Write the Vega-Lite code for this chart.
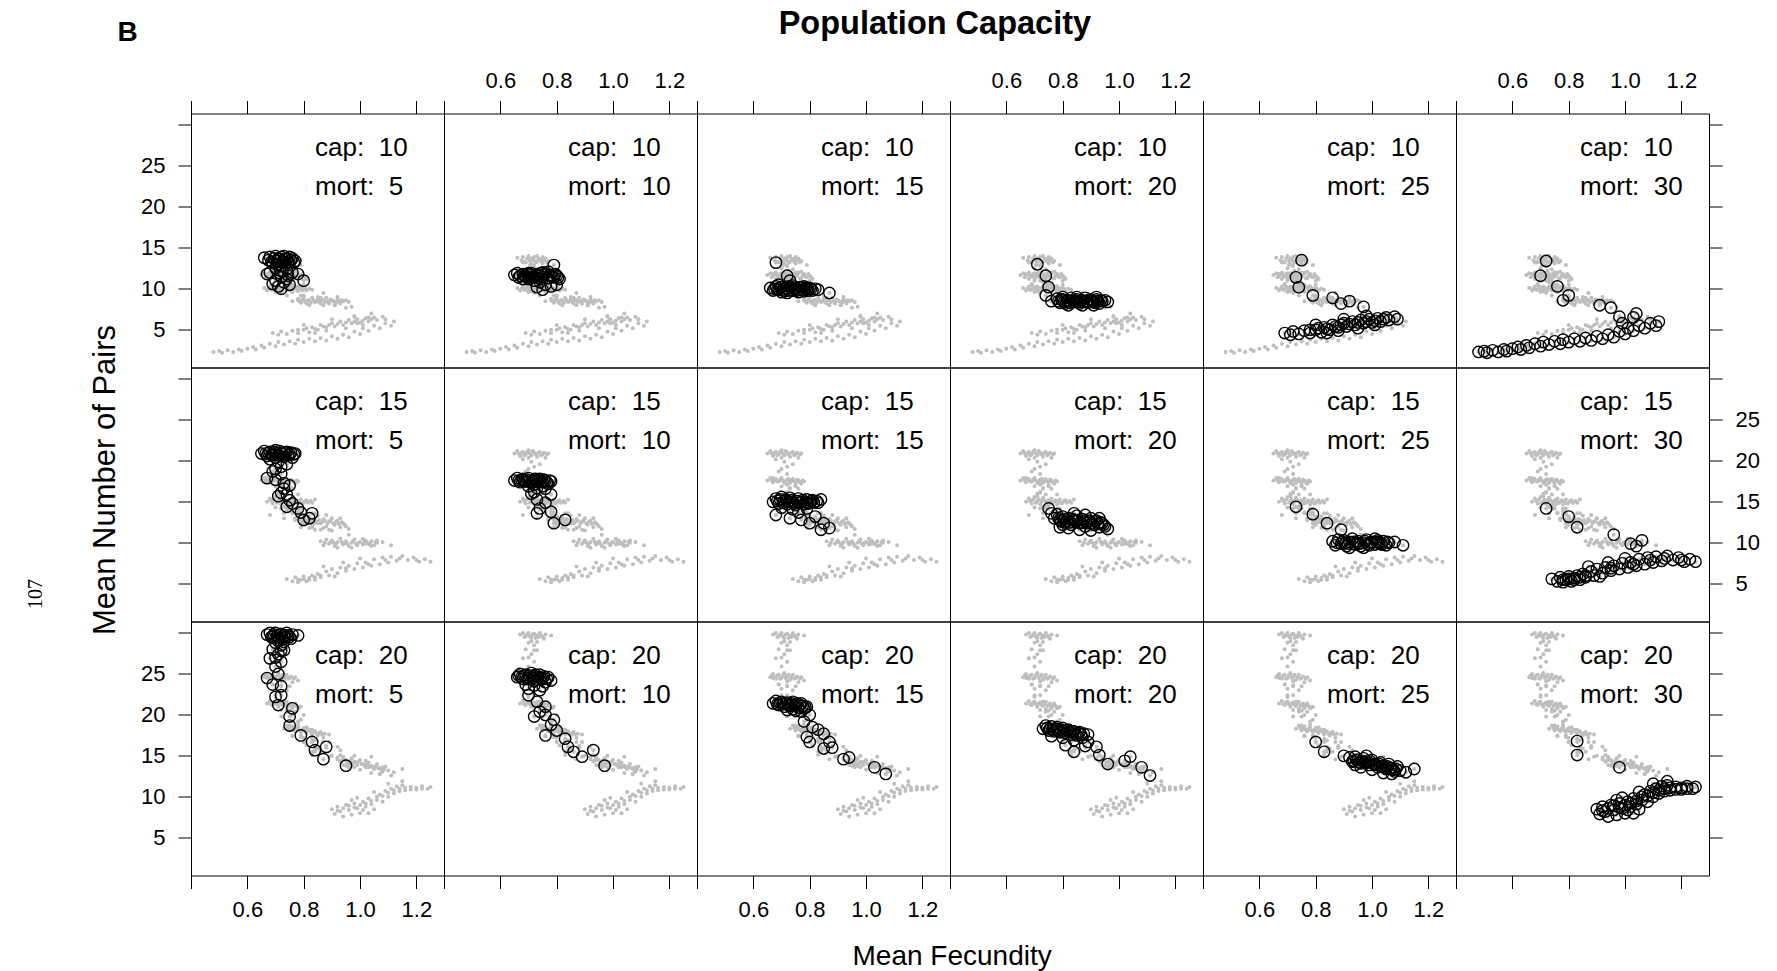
{
"$schema":"https://vega.github.io/schema/vega-lite/v6.json",
"background":"white",
"padding":{"left":24,"top":6.5,"right":5,"bottom":5},
"columns":6,"spacing":0,"bounds":"flush",
"datasets":{
"paneltext":[
{"cap":10,"mort":5,"capText":"cap:\u00a0 10","mortText":"mort:\u00a0 5"},{"cap":10,"mort":10,"capText":"cap:\u00a0 10","mortText":"mort:\u00a0 10"},{"cap":10,"mort":15,"capText":"cap:\u00a0 10","mortText":"mort:\u00a0 15"},{"cap":10,"mort":20,"capText":"cap:\u00a0 10","mortText":"mort:\u00a0 20"},{"cap":10,"mort":25,"capText":"cap:\u00a0 10","mortText":"mort:\u00a0 25"},{"cap":10,"mort":30,"capText":"cap:\u00a0 10","mortText":"mort:\u00a0 30"},
{"cap":15,"mort":5,"capText":"cap:\u00a0 15","mortText":"mort:\u00a0 5"},{"cap":15,"mort":10,"capText":"cap:\u00a0 15","mortText":"mort:\u00a0 10"},{"cap":15,"mort":15,"capText":"cap:\u00a0 15","mortText":"mort:\u00a0 15"},{"cap":15,"mort":20,"capText":"cap:\u00a0 15","mortText":"mort:\u00a0 20"},{"cap":15,"mort":25,"capText":"cap:\u00a0 15","mortText":"mort:\u00a0 25"},{"cap":15,"mort":30,"capText":"cap:\u00a0 15","mortText":"mort:\u00a0 30"},
{"cap":20,"mort":5,"capText":"cap:\u00a0 20","mortText":"mort:\u00a0 5"},{"cap":20,"mort":10,"capText":"cap:\u00a0 20","mortText":"mort:\u00a0 10"},{"cap":20,"mort":15,"capText":"cap:\u00a0 20","mortText":"mort:\u00a0 15"},{"cap":20,"mort":20,"capText":"cap:\u00a0 20","mortText":"mort:\u00a0 20"},{"cap":20,"mort":25,"capText":"cap:\u00a0 20","mortText":"mort:\u00a0 25"},{"cap":20,"mort":30,"capText":"cap:\u00a0 20","mortText":"mort:\u00a0 30"}
],
"pts":[
{"cap":10,"mort":5,"x":0.66,"y":13.8},{"cap":10,"mort":5,"x":0.68,"y":13.9},{"cap":10,"mort":5,"x":0.70,"y":14.0},{"cap":10,"mort":5,"x":0.71,"y":13.7},{"cap":10,"mort":5,"x":0.72,"y":13.9},{"cap":10,"mort":5,"x":0.73,"y":14.0},{"cap":10,"mort":5,"x":0.74,"y":13.6},{"cap":10,"mort":5,"x":0.75,"y":13.9},{"cap":10,"mort":5,"x":0.76,"y":13.7},{"cap":10,"mort":5,"x":0.77,"y":13.4},{"cap":10,"mort":5,"x":0.69,"y":13.2},{"cap":10,"mort":5,"x":0.71,"y":13.0},{"cap":10,"mort":5,"x":0.73,"y":13.3},{"cap":10,"mort":5,"x":0.75,"y":13.1},{"cap":10,"mort":5,"x":0.70,"y":12.5},{"cap":10,"mort":5,"x":0.72,"y":12.8},{"cap":10,"mort":5,"x":0.74,"y":12.4},{"cap":10,"mort":5,"x":0.68,"y":12.0},{"cap":10,"mort":5,"x":0.67,"y":11.8},{"cap":10,"mort":5,"x":0.76,"y":12.0},{"cap":10,"mort":5,"x":0.72,"y":11.5},{"cap":10,"mort":5,"x":0.70,"y":11.0},{"cap":10,"mort":5,"x":0.73,"y":10.8},{"cap":10,"mort":5,"x":0.71,"y":10.3},{"cap":10,"mort":5,"x":0.72,"y":10.0},{"cap":10,"mort":5,"x":0.75,"y":10.5},{"cap":10,"mort":5,"x":0.78,"y":11.8},{"cap":10,"mort":5,"x":0.80,"y":11.0},{"cap":10,"mort":5,"x":0.69,"y":10.6},{"cap":10,"mort":5,"x":0.74,"y":11.2},
{"cap":10,"mort":5,"x":0.675,"y":13.5},{"cap":10,"mort":5,"x":0.685,"y":13.3},{"cap":10,"mort":5,"x":0.695,"y":13.7},{"cap":10,"mort":5,"x":0.705,"y":13.4},{"cap":10,"mort":5,"x":0.715,"y":13.6},{"cap":10,"mort":5,"x":0.725,"y":13.2},{"cap":10,"mort":5,"x":0.735,"y":13.7},{"cap":10,"mort":5,"x":0.745,"y":13.3},{"cap":10,"mort":5,"x":0.755,"y":13.5},{"cap":10,"mort":5,"x":0.765,"y":13.2},{"cap":10,"mort":5,"x":0.705,"y":12.9},{"cap":10,"mort":5,"x":0.725,"y":12.2},{"cap":10,"mort":5,"x":0.715,"y":11.9},{"cap":10,"mort":5,"x":0.745,"y":11.6},
{"cap":10,"mort":10,"x":0.65,"y":11.7},{"cap":10,"mort":10,"x":0.66,"y":11.9},{"cap":10,"mort":10,"x":0.67,"y":11.6},{"cap":10,"mort":10,"x":0.68,"y":11.8},{"cap":10,"mort":10,"x":0.69,"y":11.5},{"cap":10,"mort":10,"x":0.70,"y":11.9},{"cap":10,"mort":10,"x":0.71,"y":11.7},{"cap":10,"mort":10,"x":0.72,"y":11.4},{"cap":10,"mort":10,"x":0.73,"y":11.8},{"cap":10,"mort":10,"x":0.74,"y":11.6},{"cap":10,"mort":10,"x":0.75,"y":11.5},{"cap":10,"mort":10,"x":0.76,"y":11.9},{"cap":10,"mort":10,"x":0.77,"y":11.3},{"cap":10,"mort":10,"x":0.78,"y":11.7},{"cap":10,"mort":10,"x":0.79,"y":11.4},{"cap":10,"mort":10,"x":0.80,"y":11.6},{"cap":10,"mort":10,"x":0.79,"y":12.9},{"cap":10,"mort":10,"x":0.81,"y":11.2},{"cap":10,"mort":10,"x":0.70,"y":11.2},{"cap":10,"mort":10,"x":0.72,"y":11.0},{"cap":10,"mort":10,"x":0.74,"y":10.8},{"cap":10,"mort":10,"x":0.76,"y":10.5},{"cap":10,"mort":10,"x":0.73,"y":10.2},{"cap":10,"mort":10,"x":0.75,"y":9.9},{"cap":10,"mort":10,"x":0.78,"y":10.3},{"cap":10,"mort":10,"x":0.80,"y":10.5},{"cap":10,"mort":10,"x":0.68,"y":11.2},{"cap":10,"mort":10,"x":0.71,"y":11.9},{"cap":10,"mort":10,"x":0.75,"y":12.0},{"cap":10,"mort":10,"x":0.77,"y":12.1},
{"cap":10,"mort":10,"x":0.665,"y":11.4},{"cap":10,"mort":10,"x":0.685,"y":11.6},{"cap":10,"mort":10,"x":0.695,"y":11.8},{"cap":10,"mort":10,"x":0.705,"y":11.4},{"cap":10,"mort":10,"x":0.715,"y":11.5},{"cap":10,"mort":10,"x":0.725,"y":11.7},{"cap":10,"mort":10,"x":0.735,"y":11.3},{"cap":10,"mort":10,"x":0.745,"y":11.9},{"cap":10,"mort":10,"x":0.755,"y":11.7},{"cap":10,"mort":10,"x":0.765,"y":11.3},{"cap":10,"mort":10,"x":0.775,"y":11.6},{"cap":10,"mort":10,"x":0.785,"y":11.5},{"cap":10,"mort":10,"x":0.795,"y":11.8},{"cap":10,"mort":10,"x":0.805,"y":11.4},
{"cap":10,"mort":15,"x":0.68,"y":13.2},{"cap":10,"mort":15,"x":0.72,"y":11.6},{"cap":10,"mort":15,"x":0.73,"y":11.0},{"cap":10,"mort":15,"x":0.66,"y":10.1},{"cap":10,"mort":15,"x":0.67,"y":9.8},{"cap":10,"mort":15,"x":0.68,"y":10.3},{"cap":10,"mort":15,"x":0.69,"y":9.9},{"cap":10,"mort":15,"x":0.70,"y":10.2},{"cap":10,"mort":15,"x":0.71,"y":9.7},{"cap":10,"mort":15,"x":0.72,"y":10.0},{"cap":10,"mort":15,"x":0.73,"y":10.3},{"cap":10,"mort":15,"x":0.74,"y":9.8},{"cap":10,"mort":15,"x":0.75,"y":10.1},{"cap":10,"mort":15,"x":0.76,"y":9.9},{"cap":10,"mort":15,"x":0.77,"y":10.2},{"cap":10,"mort":15,"x":0.78,"y":9.7},{"cap":10,"mort":15,"x":0.79,"y":10.0},{"cap":10,"mort":15,"x":0.80,"y":10.1},{"cap":10,"mort":15,"x":0.81,"y":9.8},{"cap":10,"mort":15,"x":0.82,"y":10.0},{"cap":10,"mort":15,"x":0.83,"y":9.9},{"cap":10,"mort":15,"x":0.87,"y":9.5},{"cap":10,"mort":15,"x":0.70,"y":9.6},{"cap":10,"mort":15,"x":0.74,"y":10.4},{"cap":10,"mort":15,"x":0.78,"y":10.3},{"cap":10,"mort":15,"x":0.76,"y":9.6},{"cap":10,"mort":15,"x":0.72,"y":9.5},{"cap":10,"mort":15,"x":0.69,"y":10.5},
{"cap":10,"mort":15,"x":0.675,"y":10.0},{"cap":10,"mort":15,"x":0.685,"y":9.9},{"cap":10,"mort":15,"x":0.695,"y":10.2},{"cap":10,"mort":15,"x":0.705,"y":9.9},{"cap":10,"mort":15,"x":0.715,"y":10.1},{"cap":10,"mort":15,"x":0.725,"y":9.8},{"cap":10,"mort":15,"x":0.735,"y":10.1},{"cap":10,"mort":15,"x":0.745,"y":10.0},{"cap":10,"mort":15,"x":0.755,"y":9.8},{"cap":10,"mort":15,"x":0.765,"y":10.2},{"cap":10,"mort":15,"x":0.775,"y":9.9},{"cap":10,"mort":15,"x":0.785,"y":10.1},{"cap":10,"mort":15,"x":0.795,"y":9.8},{"cap":10,"mort":15,"x":0.805,"y":10.0},
{"cap":10,"mort":20,"x":0.71,"y":13.0},{"cap":10,"mort":20,"x":0.74,"y":11.6},{"cap":10,"mort":20,"x":0.75,"y":10.2},{"cap":10,"mort":20,"x":0.74,"y":9.2},{"cap":10,"mort":20,"x":0.76,"y":8.5},{"cap":10,"mort":20,"x":0.78,"y":8.8},{"cap":10,"mort":20,"x":0.79,"y":8.3},{"cap":10,"mort":20,"x":0.80,"y":8.7},{"cap":10,"mort":20,"x":0.81,"y":8.2},{"cap":10,"mort":20,"x":0.82,"y":8.6},{"cap":10,"mort":20,"x":0.83,"y":8.9},{"cap":10,"mort":20,"x":0.84,"y":8.4},{"cap":10,"mort":20,"x":0.85,"y":8.7},{"cap":10,"mort":20,"x":0.86,"y":8.2},{"cap":10,"mort":20,"x":0.87,"y":8.6},{"cap":10,"mort":20,"x":0.88,"y":8.9},{"cap":10,"mort":20,"x":0.89,"y":8.3},{"cap":10,"mort":20,"x":0.90,"y":8.6},{"cap":10,"mort":20,"x":0.91,"y":8.4},{"cap":10,"mort":20,"x":0.92,"y":8.7},{"cap":10,"mort":20,"x":0.93,"y":8.2},{"cap":10,"mort":20,"x":0.94,"y":8.5},{"cap":10,"mort":20,"x":0.95,"y":8.6},{"cap":10,"mort":20,"x":0.96,"y":8.4},{"cap":10,"mort":20,"x":0.82,"y":8.0},{"cap":10,"mort":20,"x":0.87,"y":8.0},{"cap":10,"mort":20,"x":0.91,"y":8.0},{"cap":10,"mort":20,"x":0.80,"y":9.0},{"cap":10,"mort":20,"x":0.85,"y":9.0},{"cap":10,"mort":20,"x":0.92,"y":9.0},
{"cap":10,"mort":20,"x":0.785,"y":8.5},{"cap":10,"mort":20,"x":0.795,"y":8.7},{"cap":10,"mort":20,"x":0.805,"y":8.4},{"cap":10,"mort":20,"x":0.815,"y":8.6},{"cap":10,"mort":20,"x":0.825,"y":8.3},{"cap":10,"mort":20,"x":0.835,"y":8.6},{"cap":10,"mort":20,"x":0.845,"y":8.5},{"cap":10,"mort":20,"x":0.855,"y":8.4},{"cap":10,"mort":20,"x":0.865,"y":8.6},{"cap":10,"mort":20,"x":0.875,"y":8.4},{"cap":10,"mort":20,"x":0.885,"y":8.5},{"cap":10,"mort":20,"x":0.895,"y":8.7},{"cap":10,"mort":20,"x":0.905,"y":8.5},{"cap":10,"mort":20,"x":0.915,"y":8.3},{"cap":10,"mort":20,"x":0.925,"y":8.5},{"cap":10,"mort":20,"x":0.935,"y":8.6},
{"cap":10,"mort":25,"x":0.75,"y":13.5},{"cap":10,"mort":25,"x":0.73,"y":11.4},{"cap":10,"mort":25,"x":0.74,"y":10.2},{"cap":10,"mort":25,"x":0.79,"y":9.2},{"cap":10,"mort":25,"x":0.86,"y":8.9},{"cap":10,"mort":25,"x":0.89,"y":8.2},{"cap":10,"mort":25,"x":0.92,"y":8.5},{"cap":10,"mort":25,"x":0.97,"y":7.8},{"cap":10,"mort":25,"x":0.69,"y":4.6},{"cap":10,"mort":25,"x":0.71,"y":4.4},{"cap":10,"mort":25,"x":0.72,"y":4.8},{"cap":10,"mort":25,"x":0.74,"y":4.5},{"cap":10,"mort":25,"x":0.76,"y":4.9},{"cap":10,"mort":25,"x":0.78,"y":4.6},{"cap":10,"mort":25,"x":0.80,"y":5.0},{"cap":10,"mort":25,"x":0.82,"y":4.7},{"cap":10,"mort":25,"x":0.83,"y":5.3},{"cap":10,"mort":25,"x":0.85,"y":5.0},{"cap":10,"mort":25,"x":0.86,"y":5.6},{"cap":10,"mort":25,"x":0.88,"y":5.3},{"cap":10,"mort":25,"x":0.90,"y":5.8},{"cap":10,"mort":25,"x":0.91,"y":5.4},{"cap":10,"mort":25,"x":0.93,"y":6.0},{"cap":10,"mort":25,"x":0.94,"y":5.6},{"cap":10,"mort":25,"x":0.96,"y":6.2},{"cap":10,"mort":25,"x":0.97,"y":5.8},{"cap":10,"mort":25,"x":0.99,"y":6.3},{"cap":10,"mort":25,"x":1.00,"y":5.9},{"cap":10,"mort":25,"x":1.02,"y":6.4},{"cap":10,"mort":25,"x":1.03,"y":6.0},{"cap":10,"mort":25,"x":1.05,"y":6.5},{"cap":10,"mort":25,"x":1.06,"y":6.2},{"cap":10,"mort":25,"x":1.08,"y":6.6},{"cap":10,"mort":25,"x":1.09,"y":6.3},{"cap":10,"mort":25,"x":0.84,"y":4.6},{"cap":10,"mort":25,"x":0.88,"y":4.9},{"cap":10,"mort":25,"x":0.95,"y":5.2},{"cap":10,"mort":25,"x":1.01,"y":5.6},{"cap":10,"mort":25,"x":0.80,"y":5.6},{"cap":10,"mort":25,"x":0.90,"y":6.3},{"cap":10,"mort":25,"x":0.98,"y":6.7},
{"cap":10,"mort":25,"x":0.78,"y":5.0},{"cap":10,"mort":25,"x":0.81,"y":5.2},{"cap":10,"mort":25,"x":0.84,"y":5.1},{"cap":10,"mort":25,"x":0.87,"y":5.4},{"cap":10,"mort":25,"x":0.89,"y":5.6},{"cap":10,"mort":25,"x":0.92,"y":5.7},{"cap":10,"mort":25,"x":0.95,"y":5.9},{"cap":10,"mort":25,"x":0.98,"y":6.0},{"cap":10,"mort":25,"x":1.01,"y":6.1},{"cap":10,"mort":25,"x":1.04,"y":6.3},
{"cap":10,"mort":30,"x":0.72,"y":13.4},{"cap":10,"mort":30,"x":0.70,"y":11.6},{"cap":10,"mort":30,"x":0.76,"y":10.3},{"cap":10,"mort":30,"x":0.78,"y":8.6},{"cap":10,"mort":30,"x":0.80,"y":9.2},{"cap":10,"mort":30,"x":0.91,"y":8.0},{"cap":10,"mort":30,"x":0.95,"y":7.7},{"cap":10,"mort":30,"x":0.98,"y":6.6},{"cap":10,"mort":30,"x":1.04,"y":7.0},{"cap":10,"mort":30,"x":1.03,"y":6.5},{"cap":10,"mort":30,"x":0.99,"y":5.8},{"cap":10,"mort":30,"x":0.48,"y":2.3},{"cap":10,"mort":30,"x":0.50,"y":2.4},{"cap":10,"mort":30,"x":0.51,"y":2.2},{"cap":10,"mort":30,"x":0.53,"y":2.5},{"cap":10,"mort":30,"x":0.55,"y":2.3},{"cap":10,"mort":30,"x":0.57,"y":2.6},{"cap":10,"mort":30,"x":0.58,"y":2.4},{"cap":10,"mort":30,"x":0.60,"y":2.7},{"cap":10,"mort":30,"x":0.62,"y":2.9},{"cap":10,"mort":30,"x":0.63,"y":2.6},{"cap":10,"mort":30,"x":0.65,"y":3.1},{"cap":10,"mort":30,"x":0.66,"y":2.8},{"cap":10,"mort":30,"x":0.68,"y":3.3},{"cap":10,"mort":30,"x":0.70,"y":3.0},{"cap":10,"mort":30,"x":0.71,"y":3.5},{"cap":10,"mort":30,"x":0.73,"y":3.2},{"cap":10,"mort":30,"x":0.75,"y":3.6},{"cap":10,"mort":30,"x":0.77,"y":3.3},{"cap":10,"mort":30,"x":0.78,"y":3.8},{"cap":10,"mort":30,"x":0.80,"y":3.5},{"cap":10,"mort":30,"x":0.82,"y":3.9},{"cap":10,"mort":30,"x":0.84,"y":3.6},{"cap":10,"mort":30,"x":0.86,"y":4.0},{"cap":10,"mort":30,"x":0.88,"y":3.7},{"cap":10,"mort":30,"x":0.90,"y":4.2},{"cap":10,"mort":30,"x":0.92,"y":3.9},{"cap":10,"mort":30,"x":0.94,"y":4.4},{"cap":10,"mort":30,"x":0.96,"y":4.1},{"cap":10,"mort":30,"x":0.98,"y":4.8},{"cap":10,"mort":30,"x":1.00,"y":4.5},{"cap":10,"mort":30,"x":1.01,"y":5.2},{"cap":10,"mort":30,"x":1.03,"y":4.9},{"cap":10,"mort":30,"x":1.05,"y":5.5},{"cap":10,"mort":30,"x":1.07,"y":5.2},{"cap":10,"mort":30,"x":1.09,"y":5.8},{"cap":10,"mort":30,"x":1.11,"y":5.5},{"cap":10,"mort":30,"x":1.12,"y":6.0},
{"cap":15,"mort":5,"x":0.65,"y":20.9},{"cap":15,"mort":5,"x":0.66,"y":21.2},{"cap":15,"mort":5,"x":0.67,"y":20.6},{"cap":15,"mort":5,"x":0.68,"y":21.1},{"cap":15,"mort":5,"x":0.69,"y":20.8},{"cap":15,"mort":5,"x":0.70,"y":21.3},{"cap":15,"mort":5,"x":0.71,"y":20.7},{"cap":15,"mort":5,"x":0.72,"y":21.0},{"cap":15,"mort":5,"x":0.73,"y":20.5},{"cap":15,"mort":5,"x":0.74,"y":21.1},{"cap":15,"mort":5,"x":0.75,"y":20.8},{"cap":15,"mort":5,"x":0.76,"y":20.4},{"cap":15,"mort":5,"x":0.77,"y":20.9},{"cap":15,"mort":5,"x":0.68,"y":20.2},{"cap":15,"mort":5,"x":0.71,"y":19.9},{"cap":15,"mort":5,"x":0.74,"y":19.6},{"cap":15,"mort":5,"x":0.69,"y":18.7},{"cap":15,"mort":5,"x":0.72,"y":18.4},{"cap":15,"mort":5,"x":0.67,"y":17.9},{"cap":15,"mort":5,"x":0.70,"y":17.7},{"cap":15,"mort":5,"x":0.73,"y":17.3},{"cap":15,"mort":5,"x":0.73,"y":16.6},{"cap":15,"mort":5,"x":0.71,"y":15.7},{"cap":15,"mort":5,"x":0.74,"y":15.9},{"cap":15,"mort":5,"x":0.75,"y":15.2},{"cap":15,"mort":5,"x":0.76,"y":14.8},{"cap":15,"mort":5,"x":0.74,"y":14.4},{"cap":15,"mort":5,"x":0.78,"y":14.2},{"cap":15,"mort":5,"x":0.79,"y":13.7},{"cap":15,"mort":5,"x":0.83,"y":13.6},{"cap":15,"mort":5,"x":0.82,"y":13.0},{"cap":15,"mort":5,"x":0.80,"y":12.8},
{"cap":15,"mort":5,"x":0.665,"y":20.9},{"cap":15,"mort":5,"x":0.675,"y":21.0},{"cap":15,"mort":5,"x":0.685,"y":20.7},{"cap":15,"mort":5,"x":0.695,"y":21.1},{"cap":15,"mort":5,"x":0.705,"y":20.9},{"cap":15,"mort":5,"x":0.715,"y":21.2},{"cap":15,"mort":5,"x":0.725,"y":20.8},{"cap":15,"mort":5,"x":0.735,"y":21.0},{"cap":15,"mort":5,"x":0.745,"y":20.7},{"cap":15,"mort":5,"x":0.755,"y":21.0},{"cap":15,"mort":5,"x":0.765,"y":20.8},{"cap":15,"mort":5,"x":0.70,"y":20.4},{"cap":15,"mort":5,"x":0.72,"y":19.3},{"cap":15,"mort":5,"x":0.70,"y":19.0},{"cap":15,"mort":5,"x":0.75,"y":17.0},{"cap":15,"mort":5,"x":0.72,"y":16.1},
{"cap":15,"mort":10,"x":0.65,"y":17.6},{"cap":15,"mort":10,"x":0.66,"y":17.9},{"cap":15,"mort":10,"x":0.67,"y":17.4},{"cap":15,"mort":10,"x":0.68,"y":17.8},{"cap":15,"mort":10,"x":0.69,"y":17.5},{"cap":15,"mort":10,"x":0.70,"y":17.9},{"cap":15,"mort":10,"x":0.71,"y":17.3},{"cap":15,"mort":10,"x":0.72,"y":17.7},{"cap":15,"mort":10,"x":0.73,"y":17.5},{"cap":15,"mort":10,"x":0.74,"y":17.8},{"cap":15,"mort":10,"x":0.75,"y":17.4},{"cap":15,"mort":10,"x":0.76,"y":17.6},{"cap":15,"mort":10,"x":0.77,"y":17.2},{"cap":15,"mort":10,"x":0.78,"y":17.5},{"cap":15,"mort":10,"x":0.70,"y":16.9},{"cap":15,"mort":10,"x":0.73,"y":16.7},{"cap":15,"mort":10,"x":0.76,"y":16.6},{"cap":15,"mort":10,"x":0.72,"y":16.2},{"cap":15,"mort":10,"x":0.71,"y":16.0},{"cap":15,"mort":10,"x":0.78,"y":15.9},{"cap":15,"mort":10,"x":0.73,"y":15.3},{"cap":15,"mort":10,"x":0.76,"y":14.9},{"cap":15,"mort":10,"x":0.74,"y":14.2},{"cap":15,"mort":10,"x":0.73,"y":13.6},{"cap":15,"mort":10,"x":0.78,"y":13.8},{"cap":15,"mort":10,"x":0.79,"y":12.4},{"cap":15,"mort":10,"x":0.83,"y":12.8},
{"cap":15,"mort":10,"x":0.665,"y":17.6},{"cap":15,"mort":10,"x":0.675,"y":17.7},{"cap":15,"mort":10,"x":0.685,"y":17.5},{"cap":15,"mort":10,"x":0.695,"y":17.7},{"cap":15,"mort":10,"x":0.705,"y":17.6},{"cap":15,"mort":10,"x":0.715,"y":17.5},{"cap":15,"mort":10,"x":0.725,"y":17.8},{"cap":15,"mort":10,"x":0.735,"y":17.6},{"cap":15,"mort":10,"x":0.745,"y":17.5},{"cap":15,"mort":10,"x":0.755,"y":17.7},{"cap":15,"mort":10,"x":0.765,"y":17.4},{"cap":15,"mort":10,"x":0.775,"y":17.6},{"cap":15,"mort":10,"x":0.72,"y":17.1},{"cap":15,"mort":10,"x":0.75,"y":16.9},
{"cap":15,"mort":15,"x":0.67,"y":15.0},{"cap":15,"mort":15,"x":0.68,"y":15.4},{"cap":15,"mort":15,"x":0.69,"y":14.8},{"cap":15,"mort":15,"x":0.70,"y":15.6},{"cap":15,"mort":15,"x":0.71,"y":15.1},{"cap":15,"mort":15,"x":0.72,"y":14.7},{"cap":15,"mort":15,"x":0.73,"y":15.5},{"cap":15,"mort":15,"x":0.74,"y":15.0},{"cap":15,"mort":15,"x":0.75,"y":14.6},{"cap":15,"mort":15,"x":0.76,"y":15.4},{"cap":15,"mort":15,"x":0.77,"y":15.0},{"cap":15,"mort":15,"x":0.78,"y":14.7},{"cap":15,"mort":15,"x":0.79,"y":15.3},{"cap":15,"mort":15,"x":0.80,"y":14.9},{"cap":15,"mort":15,"x":0.81,"y":15.2},{"cap":15,"mort":15,"x":0.83,"y":14.9},{"cap":15,"mort":15,"x":0.84,"y":15.3},{"cap":15,"mort":15,"x":0.70,"y":14.3},{"cap":15,"mort":15,"x":0.74,"y":14.1},{"cap":15,"mort":15,"x":0.79,"y":14.2},{"cap":15,"mort":15,"x":0.68,"y":13.4},{"cap":15,"mort":15,"x":0.73,"y":13.0},{"cap":15,"mort":15,"x":0.77,"y":12.8},{"cap":15,"mort":15,"x":0.80,"y":12.4},{"cap":15,"mort":15,"x":0.84,"y":11.6},{"cap":15,"mort":15,"x":0.87,"y":11.8},{"cap":15,"mort":15,"x":0.85,"y":12.4},{"cap":15,"mort":15,"x":0.82,"y":13.2},{"cap":15,"mort":15,"x":0.76,"y":13.7},
{"cap":15,"mort":15,"x":0.685,"y":15.1},{"cap":15,"mort":15,"x":0.695,"y":15.3},{"cap":15,"mort":15,"x":0.705,"y":14.9},{"cap":15,"mort":15,"x":0.715,"y":15.3},{"cap":15,"mort":15,"x":0.725,"y":15.0},{"cap":15,"mort":15,"x":0.735,"y":15.2},{"cap":15,"mort":15,"x":0.745,"y":14.8},{"cap":15,"mort":15,"x":0.755,"y":15.1},{"cap":15,"mort":15,"x":0.765,"y":14.9},{"cap":15,"mort":15,"x":0.775,"y":15.2},{"cap":15,"mort":15,"x":0.785,"y":15.0},{"cap":15,"mort":15,"x":0.795,"y":14.8},{"cap":15,"mort":15,"x":0.805,"y":15.1},{"cap":15,"mort":15,"x":0.815,"y":14.9},{"cap":15,"mort":15,"x":0.825,"y":15.1},
{"cap":15,"mort":20,"x":0.75,"y":14.2},{"cap":15,"mort":20,"x":0.76,"y":13.6},{"cap":15,"mort":20,"x":0.77,"y":13.0},{"cap":15,"mort":20,"x":0.78,"y":13.5},{"cap":15,"mort":20,"x":0.79,"y":12.8},{"cap":15,"mort":20,"x":0.80,"y":13.2},{"cap":15,"mort":20,"x":0.81,"y":12.5},{"cap":15,"mort":20,"x":0.82,"y":13.0},{"cap":15,"mort":20,"x":0.83,"y":12.2},{"cap":15,"mort":20,"x":0.84,"y":12.8},{"cap":15,"mort":20,"x":0.85,"y":13.3},{"cap":15,"mort":20,"x":0.86,"y":12.4},{"cap":15,"mort":20,"x":0.87,"y":12.9},{"cap":15,"mort":20,"x":0.88,"y":12.0},{"cap":15,"mort":20,"x":0.89,"y":12.6},{"cap":15,"mort":20,"x":0.90,"y":13.0},{"cap":15,"mort":20,"x":0.91,"y":12.2},{"cap":15,"mort":20,"x":0.92,"y":12.7},{"cap":15,"mort":20,"x":0.93,"y":11.9},{"cap":15,"mort":20,"x":0.94,"y":12.4},{"cap":15,"mort":20,"x":0.95,"y":12.0},{"cap":15,"mort":20,"x":0.96,"y":11.7},{"cap":15,"mort":20,"x":0.82,"y":11.8},{"cap":15,"mort":20,"x":0.86,"y":11.6},{"cap":15,"mort":20,"x":0.90,"y":11.5},{"cap":15,"mort":20,"x":0.80,"y":12.2},{"cap":15,"mort":20,"x":0.84,"y":13.6},{"cap":15,"mort":20,"x":0.88,"y":13.4},{"cap":15,"mort":20,"x":0.93,"y":13.0},{"cap":15,"mort":20,"x":0.79,"y":11.9},
{"cap":15,"mort":20,"x":0.785,"y":13.0},{"cap":15,"mort":20,"x":0.795,"y":12.6},{"cap":15,"mort":20,"x":0.805,"y":12.9},{"cap":15,"mort":20,"x":0.815,"y":12.7},{"cap":15,"mort":20,"x":0.825,"y":12.5},{"cap":15,"mort":20,"x":0.835,"y":12.9},{"cap":15,"mort":20,"x":0.845,"y":12.6},{"cap":15,"mort":20,"x":0.855,"y":12.8},{"cap":15,"mort":20,"x":0.865,"y":12.5},{"cap":15,"mort":20,"x":0.875,"y":12.7},{"cap":15,"mort":20,"x":0.885,"y":12.4},{"cap":15,"mort":20,"x":0.895,"y":12.7},{"cap":15,"mort":20,"x":0.905,"y":12.4},{"cap":15,"mort":20,"x":0.915,"y":12.6},{"cap":15,"mort":20,"x":0.925,"y":12.3},{"cap":15,"mort":20,"x":0.935,"y":12.5},{"cap":15,"mort":20,"x":0.945,"y":12.2},
{"cap":15,"mort":25,"x":0.73,"y":14.4},{"cap":15,"mort":25,"x":0.79,"y":13.5},{"cap":15,"mort":25,"x":0.84,"y":12.4},{"cap":15,"mort":25,"x":0.89,"y":11.6},{"cap":15,"mort":25,"x":0.86,"y":10.2},{"cap":15,"mort":25,"x":0.87,"y":9.7},{"cap":15,"mort":25,"x":0.88,"y":10.4},{"cap":15,"mort":25,"x":0.89,"y":9.9},{"cap":15,"mort":25,"x":0.90,"y":10.3},{"cap":15,"mort":25,"x":0.91,"y":9.6},{"cap":15,"mort":25,"x":0.92,"y":10.1},{"cap":15,"mort":25,"x":0.93,"y":10.5},{"cap":15,"mort":25,"x":0.94,"y":9.8},{"cap":15,"mort":25,"x":0.95,"y":10.2},{"cap":15,"mort":25,"x":0.96,"y":9.6},{"cap":15,"mort":25,"x":0.97,"y":10.0},{"cap":15,"mort":25,"x":0.98,"y":10.4},{"cap":15,"mort":25,"x":0.99,"y":9.7},{"cap":15,"mort":25,"x":1.00,"y":10.1},{"cap":15,"mort":25,"x":1.01,"y":9.8},{"cap":15,"mort":25,"x":1.02,"y":10.3},{"cap":15,"mort":25,"x":1.03,"y":9.9},{"cap":15,"mort":25,"x":1.04,"y":10.2},{"cap":15,"mort":25,"x":1.05,"y":9.7},{"cap":15,"mort":25,"x":1.06,"y":10.0},{"cap":15,"mort":25,"x":1.08,"y":10.1},{"cap":15,"mort":25,"x":1.11,"y":9.7},{"cap":15,"mort":25,"x":0.92,"y":9.4},{"cap":15,"mort":25,"x":0.97,"y":9.4},{"cap":15,"mort":25,"x":1.01,"y":10.5},
{"cap":15,"mort":25,"x":0.875,"y":10.0},{"cap":15,"mort":25,"x":0.895,"y":10.1},{"cap":15,"mort":25,"x":0.915,"y":9.9},{"cap":15,"mort":25,"x":0.935,"y":10.1},{"cap":15,"mort":25,"x":0.955,"y":9.9},{"cap":15,"mort":25,"x":0.975,"y":10.2},{"cap":15,"mort":25,"x":0.995,"y":10.0},{"cap":15,"mort":25,"x":1.015,"y":10.1},{"cap":15,"mort":25,"x":1.035,"y":9.8},{"cap":15,"mort":25,"x":1.055,"y":10.1},{"cap":15,"mort":25,"x":0.905,"y":10.0},{"cap":15,"mort":25,"x":0.945,"y":10.0},{"cap":15,"mort":25,"x":0.985,"y":9.9},{"cap":15,"mort":25,"x":1.025,"y":10.0},
{"cap":15,"mort":30,"x":0.72,"y":14.2},{"cap":15,"mort":30,"x":0.80,"y":13.2},{"cap":15,"mort":30,"x":0.83,"y":11.9},{"cap":15,"mort":30,"x":0.96,"y":11.0},{"cap":15,"mort":30,"x":1.02,"y":9.9},{"cap":15,"mort":30,"x":1.06,"y":10.3},{"cap":15,"mort":30,"x":1.04,"y":9.6},{"cap":15,"mort":30,"x":0.74,"y":5.6},{"cap":15,"mort":30,"x":0.76,"y":5.3},{"cap":15,"mort":30,"x":0.77,"y":5.8},{"cap":15,"mort":30,"x":0.78,"y":5.2},{"cap":15,"mort":30,"x":0.79,"y":5.5},{"cap":15,"mort":30,"x":0.80,"y":5.9},{"cap":15,"mort":30,"x":0.81,"y":5.3},{"cap":15,"mort":30,"x":0.82,"y":5.7},{"cap":15,"mort":30,"x":0.83,"y":6.0},{"cap":15,"mort":30,"x":0.84,"y":5.5},{"cap":15,"mort":30,"x":0.85,"y":6.2},{"cap":15,"mort":30,"x":0.86,"y":5.8},{"cap":15,"mort":30,"x":0.88,"y":6.5},{"cap":15,"mort":30,"x":0.89,"y":6.0},{"cap":15,"mort":30,"x":0.90,"y":6.8},{"cap":15,"mort":30,"x":0.92,"y":6.3},{"cap":15,"mort":30,"x":0.93,"y":7.0},{"cap":15,"mort":30,"x":0.95,"y":6.6},{"cap":15,"mort":30,"x":0.96,"y":7.2},{"cap":15,"mort":30,"x":0.98,"y":6.8},{"cap":15,"mort":30,"x":0.99,"y":7.5},{"cap":15,"mort":30,"x":1.01,"y":7.0},{"cap":15,"mort":30,"x":1.02,"y":7.6},{"cap":15,"mort":30,"x":1.04,"y":7.2},{"cap":15,"mort":30,"x":1.05,"y":8.0},{"cap":15,"mort":30,"x":1.07,"y":7.4},{"cap":15,"mort":30,"x":1.08,"y":8.2},{"cap":15,"mort":30,"x":1.10,"y":7.6},{"cap":15,"mort":30,"x":1.11,"y":8.3},{"cap":15,"mort":30,"x":1.13,"y":7.8},{"cap":15,"mort":30,"x":1.15,"y":8.4},{"cap":15,"mort":30,"x":1.17,"y":7.9},{"cap":15,"mort":30,"x":1.19,"y":8.2},{"cap":15,"mort":30,"x":1.21,"y":7.7},{"cap":15,"mort":30,"x":1.23,"y":8.0},{"cap":15,"mort":30,"x":1.25,"y":7.7},{"cap":15,"mort":30,"x":0.94,"y":7.6},{"cap":15,"mort":30,"x":1.00,"y":8.1},{"cap":15,"mort":30,"x":0.87,"y":7.1},{"cap":15,"mort":30,"x":0.91,"y":5.9},
{"cap":15,"mort":30,"x":0.78,"y":5.5},{"cap":15,"mort":30,"x":0.80,"y":5.6},{"cap":15,"mort":30,"x":0.82,"y":5.5},{"cap":15,"mort":30,"x":0.84,"y":5.8},{"cap":15,"mort":30,"x":0.86,"y":6.0},{"cap":15,"mort":30,"x":0.95,"y":6.9},{"cap":15,"mort":30,"x":1.03,"y":7.4},{"cap":15,"mort":30,"x":1.09,"y":7.9},{"cap":15,"mort":30,"x":1.14,"y":8.1},{"cap":15,"mort":30,"x":1.20,"y":7.9},
{"cap":20,"mort":5,"x":0.67,"y":29.8},{"cap":20,"mort":5,"x":0.68,"y":30.0},{"cap":20,"mort":5,"x":0.69,"y":29.6},{"cap":20,"mort":5,"x":0.70,"y":30.0},{"cap":20,"mort":5,"x":0.71,"y":29.4},{"cap":20,"mort":5,"x":0.72,"y":29.9},{"cap":20,"mort":5,"x":0.73,"y":29.7},{"cap":20,"mort":5,"x":0.74,"y":30.0},{"cap":20,"mort":5,"x":0.75,"y":29.5},{"cap":20,"mort":5,"x":0.76,"y":29.8},{"cap":20,"mort":5,"x":0.78,"y":29.7},{"cap":20,"mort":5,"x":0.70,"y":28.8},{"cap":20,"mort":5,"x":0.72,"y":28.5},{"cap":20,"mort":5,"x":0.69,"y":28.0},{"cap":20,"mort":5,"x":0.73,"y":27.9},{"cap":20,"mort":5,"x":0.71,"y":27.4},{"cap":20,"mort":5,"x":0.68,"y":26.9},{"cap":20,"mort":5,"x":0.72,"y":26.5},{"cap":20,"mort":5,"x":0.70,"y":25.9},{"cap":20,"mort":5,"x":0.71,"y":25.0},{"cap":20,"mort":5,"x":0.67,"y":24.5},{"cap":20,"mort":5,"x":0.69,"y":23.7},{"cap":20,"mort":5,"x":0.72,"y":23.5},{"cap":20,"mort":5,"x":0.70,"y":22.2},{"cap":20,"mort":5,"x":0.72,"y":22.4},{"cap":20,"mort":5,"x":0.71,"y":21.2},{"cap":20,"mort":5,"x":0.76,"y":20.8},{"cap":20,"mort":5,"x":0.75,"y":19.8},{"cap":20,"mort":5,"x":0.75,"y":18.7},{"cap":20,"mort":5,"x":0.79,"y":17.5},{"cap":20,"mort":5,"x":0.83,"y":16.7},{"cap":20,"mort":5,"x":0.84,"y":15.7},{"cap":20,"mort":5,"x":0.88,"y":16.1},{"cap":20,"mort":5,"x":0.87,"y":14.6},{"cap":20,"mort":5,"x":0.95,"y":13.8},
{"cap":20,"mort":5,"x":0.685,"y":29.5},{"cap":20,"mort":5,"x":0.695,"y":29.8},{"cap":20,"mort":5,"x":0.705,"y":29.6},{"cap":20,"mort":5,"x":0.715,"y":29.8},{"cap":20,"mort":5,"x":0.725,"y":29.4},{"cap":20,"mort":5,"x":0.735,"y":29.5},{"cap":20,"mort":5,"x":0.745,"y":29.7},{"cap":20,"mort":5,"x":0.755,"y":29.3},{"cap":20,"mort":5,"x":0.71,"y":29.0},{"cap":20,"mort":5,"x":0.73,"y":28.9},{"cap":20,"mort":5,"x":0.72,"y":27.9},{"cap":20,"mort":5,"x":0.70,"y":27.0},
{"cap":20,"mort":10,"x":0.66,"y":24.6},{"cap":20,"mort":10,"x":0.67,"y":25.0},{"cap":20,"mort":10,"x":0.68,"y":24.4},{"cap":20,"mort":10,"x":0.69,"y":24.9},{"cap":20,"mort":10,"x":0.70,"y":24.5},{"cap":20,"mort":10,"x":0.71,"y":25.1},{"cap":20,"mort":10,"x":0.72,"y":24.7},{"cap":20,"mort":10,"x":0.73,"y":24.3},{"cap":20,"mort":10,"x":0.74,"y":24.9},{"cap":20,"mort":10,"x":0.75,"y":24.5},{"cap":20,"mort":10,"x":0.76,"y":24.0},{"cap":20,"mort":10,"x":0.77,"y":24.6},{"cap":20,"mort":10,"x":0.78,"y":24.2},{"cap":20,"mort":10,"x":0.69,"y":23.7},{"cap":20,"mort":10,"x":0.72,"y":23.6},{"cap":20,"mort":10,"x":0.75,"y":23.5},{"cap":20,"mort":10,"x":0.70,"y":22.4},{"cap":20,"mort":10,"x":0.73,"y":21.6},{"cap":20,"mort":10,"x":0.76,"y":21.0},{"cap":20,"mort":10,"x":0.74,"y":20.4},{"cap":20,"mort":10,"x":0.72,"y":19.8},{"cap":20,"mort":10,"x":0.76,"y":20.0},{"cap":20,"mort":10,"x":0.79,"y":19.4},{"cap":20,"mort":10,"x":0.78,"y":18.8},{"cap":20,"mort":10,"x":0.80,"y":18.1},{"cap":20,"mort":10,"x":0.76,"y":17.5},{"cap":20,"mort":10,"x":0.83,"y":17.1},{"cap":20,"mort":10,"x":0.84,"y":16.1},{"cap":20,"mort":10,"x":0.86,"y":15.5},{"cap":20,"mort":10,"x":0.89,"y":14.9},{"cap":20,"mort":10,"x":0.93,"y":15.7},{"cap":20,"mort":10,"x":0.97,"y":13.8},
{"cap":20,"mort":10,"x":0.665,"y":24.8},{"cap":20,"mort":10,"x":0.675,"y":24.6},{"cap":20,"mort":10,"x":0.685,"y":24.8},{"cap":20,"mort":10,"x":0.695,"y":24.4},{"cap":20,"mort":10,"x":0.705,"y":24.8},{"cap":20,"mort":10,"x":0.715,"y":24.5},{"cap":20,"mort":10,"x":0.725,"y":24.9},{"cap":20,"mort":10,"x":0.735,"y":24.6},{"cap":20,"mort":10,"x":0.745,"y":24.4},{"cap":20,"mort":10,"x":0.755,"y":24.7},{"cap":20,"mort":10,"x":0.765,"y":24.4},{"cap":20,"mort":10,"x":0.72,"y":24.1},{"cap":20,"mort":10,"x":0.70,"y":23.2},{"cap":20,"mort":10,"x":0.74,"y":23.0},
{"cap":20,"mort":15,"x":0.67,"y":21.4},{"cap":20,"mort":15,"x":0.68,"y":21.7},{"cap":20,"mort":15,"x":0.69,"y":21.2},{"cap":20,"mort":15,"x":0.70,"y":21.6},{"cap":20,"mort":15,"x":0.71,"y":21.0},{"cap":20,"mort":15,"x":0.72,"y":21.5},{"cap":20,"mort":15,"x":0.73,"y":21.1},{"cap":20,"mort":15,"x":0.74,"y":21.6},{"cap":20,"mort":15,"x":0.75,"y":21.2},{"cap":20,"mort":15,"x":0.76,"y":20.9},{"cap":20,"mort":15,"x":0.77,"y":21.4},{"cap":20,"mort":15,"x":0.78,"y":20.8},{"cap":20,"mort":15,"x":0.79,"y":21.0},{"cap":20,"mort":15,"x":0.72,"y":20.6},{"cap":20,"mort":15,"x":0.75,"y":20.5},{"cap":20,"mort":15,"x":0.80,"y":20.0},{"cap":20,"mort":15,"x":0.78,"y":19.2},{"cap":20,"mort":15,"x":0.81,"y":18.5},{"cap":20,"mort":15,"x":0.83,"y":18.2},{"cap":20,"mort":15,"x":0.79,"y":17.3},{"cap":20,"mort":15,"x":0.85,"y":17.7},{"cap":20,"mort":15,"x":0.80,"y":16.7},{"cap":20,"mort":15,"x":0.87,"y":16.7},{"cap":20,"mort":15,"x":0.85,"y":15.9},{"cap":20,"mort":15,"x":0.88,"y":16.0},{"cap":20,"mort":15,"x":0.92,"y":14.6},{"cap":20,"mort":15,"x":0.94,"y":14.8},{"cap":20,"mort":15,"x":1.03,"y":13.6},{"cap":20,"mort":15,"x":1.07,"y":12.8},
{"cap":20,"mort":15,"x":0.685,"y":21.3},{"cap":20,"mort":15,"x":0.695,"y":21.5},{"cap":20,"mort":15,"x":0.705,"y":21.3},{"cap":20,"mort":15,"x":0.715,"y":21.4},{"cap":20,"mort":15,"x":0.725,"y":21.2},{"cap":20,"mort":15,"x":0.735,"y":21.4},{"cap":20,"mort":15,"x":0.745,"y":21.1},{"cap":20,"mort":15,"x":0.755,"y":21.4},{"cap":20,"mort":15,"x":0.765,"y":21.2},{"cap":20,"mort":15,"x":0.775,"y":21.1},{"cap":20,"mort":15,"x":0.785,"y":20.9},{"cap":20,"mort":15,"x":0.74,"y":20.7},{"cap":20,"mort":15,"x":0.77,"y":20.4},
{"cap":20,"mort":20,"x":0.73,"y":18.3},{"cap":20,"mort":20,"x":0.74,"y":18.7},{"cap":20,"mort":20,"x":0.75,"y":18.1},{"cap":20,"mort":20,"x":0.76,"y":18.6},{"cap":20,"mort":20,"x":0.77,"y":18.0},{"cap":20,"mort":20,"x":0.78,"y":18.5},{"cap":20,"mort":20,"x":0.79,"y":17.9},{"cap":20,"mort":20,"x":0.80,"y":18.4},{"cap":20,"mort":20,"x":0.81,"y":17.8},{"cap":20,"mort":20,"x":0.82,"y":18.2},{"cap":20,"mort":20,"x":0.83,"y":17.6},{"cap":20,"mort":20,"x":0.84,"y":18.0},{"cap":20,"mort":20,"x":0.85,"y":17.5},{"cap":20,"mort":20,"x":0.86,"y":17.9},{"cap":20,"mort":20,"x":0.87,"y":17.2},{"cap":20,"mort":20,"x":0.89,"y":17.6},{"cap":20,"mort":20,"x":0.76,"y":17.4},{"cap":20,"mort":20,"x":0.80,"y":17.2},{"cap":20,"mort":20,"x":0.84,"y":16.9},{"cap":20,"mort":20,"x":0.81,"y":16.3},{"cap":20,"mort":20,"x":0.84,"y":15.5},{"cap":20,"mort":20,"x":0.88,"y":16.2},{"cap":20,"mort":20,"x":0.89,"y":16.7},{"cap":20,"mort":20,"x":0.92,"y":16.1},{"cap":20,"mort":20,"x":0.93,"y":15.1},{"cap":20,"mort":20,"x":0.96,"y":14.0},{"cap":20,"mort":20,"x":1.02,"y":14.4},{"cap":20,"mort":20,"x":1.04,"y":14.9},{"cap":20,"mort":20,"x":1.08,"y":13.6},{"cap":20,"mort":20,"x":1.11,"y":12.6},
{"cap":20,"mort":20,"x":0.745,"y":18.4},{"cap":20,"mort":20,"x":0.755,"y":18.3},{"cap":20,"mort":20,"x":0.765,"y":18.2},{"cap":20,"mort":20,"x":0.775,"y":18.3},{"cap":20,"mort":20,"x":0.785,"y":18.1},{"cap":20,"mort":20,"x":0.795,"y":18.2},{"cap":20,"mort":20,"x":0.805,"y":18.0},{"cap":20,"mort":20,"x":0.815,"y":18.1},{"cap":20,"mort":20,"x":0.825,"y":17.9},{"cap":20,"mort":20,"x":0.835,"y":18.0},{"cap":20,"mort":20,"x":0.845,"y":17.7},{"cap":20,"mort":20,"x":0.855,"y":17.8},{"cap":20,"mort":20,"x":0.865,"y":17.6},{"cap":20,"mort":20,"x":0.875,"y":17.7},
{"cap":20,"mort":25,"x":0.80,"y":16.7},{"cap":20,"mort":25,"x":0.83,"y":15.5},{"cap":20,"mort":25,"x":0.90,"y":15.0},{"cap":20,"mort":25,"x":0.92,"y":14.8},{"cap":20,"mort":25,"x":0.93,"y":14.3},{"cap":20,"mort":25,"x":0.94,"y":14.9},{"cap":20,"mort":25,"x":0.95,"y":14.5},{"cap":20,"mort":25,"x":0.96,"y":14.1},{"cap":20,"mort":25,"x":0.97,"y":14.7},{"cap":20,"mort":25,"x":0.98,"y":14.3},{"cap":20,"mort":25,"x":0.99,"y":13.9},{"cap":20,"mort":25,"x":1.00,"y":14.5},{"cap":20,"mort":25,"x":1.01,"y":14.0},{"cap":20,"mort":25,"x":1.02,"y":13.6},{"cap":20,"mort":25,"x":1.03,"y":14.2},{"cap":20,"mort":25,"x":1.04,"y":13.8},{"cap":20,"mort":25,"x":1.05,"y":13.4},{"cap":20,"mort":25,"x":1.06,"y":14.0},{"cap":20,"mort":25,"x":1.07,"y":13.5},{"cap":20,"mort":25,"x":1.08,"y":13.1},{"cap":20,"mort":25,"x":1.09,"y":13.7},{"cap":20,"mort":25,"x":1.10,"y":13.2},{"cap":20,"mort":25,"x":1.12,"y":13.0},{"cap":20,"mort":25,"x":1.15,"y":13.4},{"cap":20,"mort":25,"x":0.96,"y":13.6},{"cap":20,"mort":25,"x":1.00,"y":13.3},{"cap":20,"mort":25,"x":1.04,"y":12.9},{"cap":20,"mort":25,"x":0.94,"y":13.9},{"cap":20,"mort":25,"x":1.07,"y":12.8},{"cap":20,"mort":25,"x":0.98,"y":15.0},
{"cap":20,"mort":25,"x":0.935,"y":14.4},{"cap":20,"mort":25,"x":0.945,"y":14.5},{"cap":20,"mort":25,"x":0.955,"y":14.2},{"cap":20,"mort":25,"x":0.965,"y":14.4},{"cap":20,"mort":25,"x":0.975,"y":14.1},{"cap":20,"mort":25,"x":0.985,"y":14.2},{"cap":20,"mort":25,"x":0.995,"y":14.3},{"cap":20,"mort":25,"x":1.005,"y":14.0},{"cap":20,"mort":25,"x":1.015,"y":13.9},{"cap":20,"mort":25,"x":1.025,"y":14.0},{"cap":20,"mort":25,"x":1.035,"y":13.7},{"cap":20,"mort":25,"x":1.045,"y":13.6},{"cap":20,"mort":25,"x":1.055,"y":13.7},{"cap":20,"mort":25,"x":1.065,"y":13.5},{"cap":20,"mort":25,"x":1.075,"y":13.3},{"cap":20,"mort":25,"x":1.085,"y":13.4},
{"cap":20,"mort":30,"x":0.83,"y":16.8},{"cap":20,"mort":30,"x":0.83,"y":15.1},{"cap":20,"mort":30,"x":0.98,"y":13.6},{"cap":20,"mort":30,"x":0.90,"y":8.5},{"cap":20,"mort":30,"x":0.91,"y":7.9},{"cap":20,"mort":30,"x":0.92,"y":8.8},{"cap":20,"mort":30,"x":0.93,"y":8.2},{"cap":20,"mort":30,"x":0.94,"y":7.6},{"cap":20,"mort":30,"x":0.95,"y":9.0},{"cap":20,"mort":30,"x":0.96,"y":8.4},{"cap":20,"mort":30,"x":0.97,"y":7.8},{"cap":20,"mort":30,"x":0.98,"y":9.2},{"cap":20,"mort":30,"x":0.99,"y":8.6},{"cap":20,"mort":30,"x":1.00,"y":8.0},{"cap":20,"mort":30,"x":1.01,"y":9.4},{"cap":20,"mort":30,"x":1.02,"y":8.8},{"cap":20,"mort":30,"x":1.03,"y":9.8},{"cap":20,"mort":30,"x":1.04,"y":9.1},{"cap":20,"mort":30,"x":1.05,"y":8.5},{"cap":20,"mort":30,"x":1.06,"y":9.6},{"cap":20,"mort":30,"x":1.07,"y":10.3},{"cap":20,"mort":30,"x":1.08,"y":9.4},{"cap":20,"mort":30,"x":1.09,"y":10.7},{"cap":20,"mort":30,"x":1.10,"y":10.0},{"cap":20,"mort":30,"x":1.11,"y":11.0},{"cap":20,"mort":30,"x":1.12,"y":10.4},{"cap":20,"mort":30,"x":1.13,"y":11.3},{"cap":20,"mort":30,"x":1.14,"y":10.7},{"cap":20,"mort":30,"x":1.15,"y":11.4},{"cap":20,"mort":30,"x":1.16,"y":10.8},{"cap":20,"mort":30,"x":1.18,"y":11.2},{"cap":20,"mort":30,"x":1.20,"y":10.9},{"cap":20,"mort":30,"x":1.22,"y":11.3},{"cap":20,"mort":30,"x":1.24,"y":11.0},{"cap":20,"mort":30,"x":1.25,"y":11.2},{"cap":20,"mort":30,"x":1.10,"y":11.6},{"cap":20,"mort":30,"x":1.05,"y":10.6},{"cap":20,"mort":30,"x":0.97,"y":9.6},{"cap":20,"mort":30,"x":1.15,"y":11.9},{"cap":20,"mort":30,"x":1.03,"y":8.0},
{"cap":20,"mort":30,"x":0.92,"y":8.3},{"cap":20,"mort":30,"x":0.94,"y":8.6},{"cap":20,"mort":30,"x":0.96,"y":8.9},{"cap":20,"mort":30,"x":0.98,"y":8.7},{"cap":20,"mort":30,"x":1.00,"y":9.0},{"cap":20,"mort":30,"x":1.02,"y":9.2},{"cap":20,"mort":30,"x":1.04,"y":9.5},{"cap":20,"mort":30,"x":1.06,"y":10.0},{"cap":20,"mort":30,"x":1.08,"y":10.1},{"cap":20,"mort":30,"x":1.10,"y":10.5},{"cap":20,"mort":30,"x":1.12,"y":10.8},{"cap":20,"mort":30,"x":1.14,"y":11.0},{"cap":20,"mort":30,"x":1.16,"y":11.1},{"cap":20,"mort":30,"x":1.18,"y":10.9},{"cap":20,"mort":30,"x":1.20,"y":11.1},{"cap":20,"mort":30,"x":1.22,"y":11.0},{"cap":20,"mort":30,"x":0.99,"y":9.9},{"cap":20,"mort":30,"x":1.01,"y":8.4}
]},
"concat":[
{"width":253,"height":254,"layer":[
 {"encoding":{"x":{"field":"x","type":"quantitative","scale":{"domain":[0.4,1.298],"nice":false,"zero":false},"axis":{"orient":"top","values":[0.4,0.6,0.8,1.0,1.2],"labels":false,"title":"B","titleX":-64,"titleY":-81,"titleFontSize":28,"titleFontWeight":"bold","titleBaseline":"middle","titleAlign":"center","titleAngle":0}},
  "y":{"field":"y","type":"quantitative","scale":{"domain":[0.4,31.4],"nice":false,"zero":false},"axis":{"orient":"left","values":[5,10,15,20,25,30],"labelExpr":"datum.value>27?'':datum.label","title":null}}},
  "layer":[
  {"data":{"name":"pts"},"transform":[{"filter":"datum.cap==10"}],"mark":{"type":"circle","size":16,"color":"#bebebe","opacity":1}},
  {"data":{"name":"pts"},"transform":[{"filter":"datum.cap==10&&datum.mort==5"}],"mark":{"type":"point","shape":"circle","filled":false,"size":130,"color":"black","strokeWidth":1.4,"opacity":1}}]},
 {"data":{"name":"paneltext"},"transform":[{"filter":"datum.cap==10&&datum.mort==5"}],"mark":{"type":"text","align":"left","baseline":"alphabetic","font":"Liberation Sans","fontSize":26,"color":"black"},"encoding":{"x":{"datum":0.8405,"type":"quantitative","axis":{"orient":"top","values":[0.4,0.6,0.8,1.0,1.2],"labels":false,"title":"B","titleX":-64,"titleY":-81,"titleFontSize":28,"titleFontWeight":"bold","titleBaseline":"middle","titleAlign":"center","titleAngle":0}},"y":{"datum":26.23,"type":"quantitative","axis":{"orient":"left","values":[5,10,15,20,25,30],"labelExpr":"datum.value>27?'':datum.label","title":null}},"text":{"field":"capText","type":"nominal"}}},
 {"data":{"name":"paneltext"},"transform":[{"filter":"datum.cap==10&&datum.mort==5"}],"mark":{"type":"text","align":"left","baseline":"alphabetic","font":"Liberation Sans","fontSize":26,"color":"black"},"encoding":{"x":{"datum":0.8405,"type":"quantitative","axis":{"orient":"top","values":[0.4,0.6,0.8,1.0,1.2],"labels":false,"title":"B","titleX":-64,"titleY":-81,"titleFontSize":28,"titleFontWeight":"bold","titleBaseline":"middle","titleAlign":"center","titleAngle":0}},"y":{"datum":21.41,"type":"quantitative","axis":{"orient":"left","values":[5,10,15,20,25,30],"labelExpr":"datum.value>27?'':datum.label","title":null}},"text":{"field":"mortText","type":"nominal"}}}
]},
{"width":253,"height":254,"layer":[
 {"encoding":{"x":{"field":"x","type":"quantitative","scale":{"domain":[0.4,1.298],"nice":false,"zero":false},"axis":{"orient":"top","values":[0.4,0.6,0.8,1.0,1.2],"format":".1f","labelExpr":"datum.value<0.5?'':datum.label","title":null}},
  "y":{"field":"y","type":"quantitative","scale":{"domain":[0.4,31.4],"nice":false,"zero":false},"axis":null}},
  "layer":[
  {"data":{"name":"pts"},"transform":[{"filter":"datum.cap==10"}],"mark":{"type":"circle","size":16,"color":"#bebebe","opacity":1}},
  {"data":{"name":"pts"},"transform":[{"filter":"datum.cap==10&&datum.mort==10"}],"mark":{"type":"point","shape":"circle","filled":false,"size":130,"color":"black","strokeWidth":1.4,"opacity":1}}]},
 {"data":{"name":"paneltext"},"transform":[{"filter":"datum.cap==10&&datum.mort==10"}],"mark":{"type":"text","align":"left","baseline":"alphabetic","font":"Liberation Sans","fontSize":26,"color":"black"},"encoding":{"x":{"datum":0.8405,"type":"quantitative","axis":{"orient":"top","values":[0.4,0.6,0.8,1.0,1.2],"format":".1f","labelExpr":"datum.value<0.5?'':datum.label","title":null}},"y":{"datum":26.23,"type":"quantitative","axis":null},"text":{"field":"capText","type":"nominal"}}},
 {"data":{"name":"paneltext"},"transform":[{"filter":"datum.cap==10&&datum.mort==10"}],"mark":{"type":"text","align":"left","baseline":"alphabetic","font":"Liberation Sans","fontSize":26,"color":"black"},"encoding":{"x":{"datum":0.8405,"type":"quantitative","axis":{"orient":"top","values":[0.4,0.6,0.8,1.0,1.2],"format":".1f","labelExpr":"datum.value<0.5?'':datum.label","title":null}},"y":{"datum":21.41,"type":"quantitative","axis":null},"text":{"field":"mortText","type":"nominal"}}}
]},
{"width":253,"height":254,"layer":[
 {"encoding":{"x":{"field":"x","type":"quantitative","scale":{"domain":[0.4,1.298],"nice":false,"zero":false},"axis":{"orient":"top","values":[0.4,0.6,0.8,1.0,1.2],"labels":false,"title":null}},
  "y":{"field":"y","type":"quantitative","scale":{"domain":[0.4,31.4],"nice":false,"zero":false},"axis":null}},
  "layer":[
  {"data":{"name":"pts"},"transform":[{"filter":"datum.cap==10"}],"mark":{"type":"circle","size":16,"color":"#bebebe","opacity":1}},
  {"data":{"name":"pts"},"transform":[{"filter":"datum.cap==10&&datum.mort==15"}],"mark":{"type":"point","shape":"circle","filled":false,"size":130,"color":"black","strokeWidth":1.4,"opacity":1}}]},
 {"data":{"name":"paneltext"},"transform":[{"filter":"datum.cap==10&&datum.mort==15"}],"mark":{"type":"text","align":"left","baseline":"alphabetic","font":"Liberation Sans","fontSize":26,"color":"black"},"encoding":{"x":{"datum":0.8405,"type":"quantitative","axis":{"orient":"top","values":[0.4,0.6,0.8,1.0,1.2],"labels":false,"title":null}},"y":{"datum":26.23,"type":"quantitative","axis":null},"text":{"field":"capText","type":"nominal"}}},
 {"data":{"name":"paneltext"},"transform":[{"filter":"datum.cap==10&&datum.mort==15"}],"mark":{"type":"text","align":"left","baseline":"alphabetic","font":"Liberation Sans","fontSize":26,"color":"black"},"encoding":{"x":{"datum":0.8405,"type":"quantitative","axis":{"orient":"top","values":[0.4,0.6,0.8,1.0,1.2],"labels":false,"title":null}},"y":{"datum":21.41,"type":"quantitative","axis":null},"text":{"field":"mortText","type":"nominal"}}}
]},
{"width":253,"height":254,"layer":[
 {"encoding":{"x":{"field":"x","type":"quantitative","scale":{"domain":[0.4,1.298],"nice":false,"zero":false},"axis":{"orient":"top","values":[0.4,0.6,0.8,1.0,1.2],"format":".1f","labelExpr":"datum.value<0.5?'':datum.label","title":"Population Capacity","titleX":-15.6,"titleY":-89.8,"titleFontSize":32.5,"titleFontWeight":"bold","titleBaseline":"middle","titleAlign":"center","titleAngle":0}},
  "y":{"field":"y","type":"quantitative","scale":{"domain":[0.4,31.4],"nice":false,"zero":false},"axis":null}},
  "layer":[
  {"data":{"name":"pts"},"transform":[{"filter":"datum.cap==10"}],"mark":{"type":"circle","size":16,"color":"#bebebe","opacity":1}},
  {"data":{"name":"pts"},"transform":[{"filter":"datum.cap==10&&datum.mort==20"}],"mark":{"type":"point","shape":"circle","filled":false,"size":130,"color":"black","strokeWidth":1.4,"opacity":1}}]},
 {"data":{"name":"paneltext"},"transform":[{"filter":"datum.cap==10&&datum.mort==20"}],"mark":{"type":"text","align":"left","baseline":"alphabetic","font":"Liberation Sans","fontSize":26,"color":"black"},"encoding":{"x":{"datum":0.8405,"type":"quantitative","axis":{"orient":"top","values":[0.4,0.6,0.8,1.0,1.2],"format":".1f","labelExpr":"datum.value<0.5?'':datum.label","title":"Population Capacity","titleX":-15.6,"titleY":-89.8,"titleFontSize":32.5,"titleFontWeight":"bold","titleBaseline":"middle","titleAlign":"center","titleAngle":0}},"y":{"datum":26.23,"type":"quantitative","axis":null},"text":{"field":"capText","type":"nominal"}}},
 {"data":{"name":"paneltext"},"transform":[{"filter":"datum.cap==10&&datum.mort==20"}],"mark":{"type":"text","align":"left","baseline":"alphabetic","font":"Liberation Sans","fontSize":26,"color":"black"},"encoding":{"x":{"datum":0.8405,"type":"quantitative","axis":{"orient":"top","values":[0.4,0.6,0.8,1.0,1.2],"format":".1f","labelExpr":"datum.value<0.5?'':datum.label","title":"Population Capacity","titleX":-15.6,"titleY":-89.8,"titleFontSize":32.5,"titleFontWeight":"bold","titleBaseline":"middle","titleAlign":"center","titleAngle":0}},"y":{"datum":21.41,"type":"quantitative","axis":null},"text":{"field":"mortText","type":"nominal"}}}
]},
{"width":253,"height":254,"layer":[
 {"encoding":{"x":{"field":"x","type":"quantitative","scale":{"domain":[0.4,1.298],"nice":false,"zero":false},"axis":{"orient":"top","values":[0.4,0.6,0.8,1.0,1.2],"labels":false,"title":null}},
  "y":{"field":"y","type":"quantitative","scale":{"domain":[0.4,31.4],"nice":false,"zero":false},"axis":null}},
  "layer":[
  {"data":{"name":"pts"},"transform":[{"filter":"datum.cap==10"}],"mark":{"type":"circle","size":16,"color":"#bebebe","opacity":1}},
  {"data":{"name":"pts"},"transform":[{"filter":"datum.cap==10&&datum.mort==25"}],"mark":{"type":"point","shape":"circle","filled":false,"size":130,"color":"black","strokeWidth":1.4,"opacity":1}}]},
 {"data":{"name":"paneltext"},"transform":[{"filter":"datum.cap==10&&datum.mort==25"}],"mark":{"type":"text","align":"left","baseline":"alphabetic","font":"Liberation Sans","fontSize":26,"color":"black"},"encoding":{"x":{"datum":0.8405,"type":"quantitative","axis":{"orient":"top","values":[0.4,0.6,0.8,1.0,1.2],"labels":false,"title":null}},"y":{"datum":26.23,"type":"quantitative","axis":null},"text":{"field":"capText","type":"nominal"}}},
 {"data":{"name":"paneltext"},"transform":[{"filter":"datum.cap==10&&datum.mort==25"}],"mark":{"type":"text","align":"left","baseline":"alphabetic","font":"Liberation Sans","fontSize":26,"color":"black"},"encoding":{"x":{"datum":0.8405,"type":"quantitative","axis":{"orient":"top","values":[0.4,0.6,0.8,1.0,1.2],"labels":false,"title":null}},"y":{"datum":21.41,"type":"quantitative","axis":null},"text":{"field":"mortText","type":"nominal"}}}
]},
{"width":253,"height":254,"layer":[
 {"encoding":{"x":{"field":"x","type":"quantitative","scale":{"domain":[0.4,1.298],"nice":false,"zero":false},"axis":{"orient":"top","values":[0.4,0.6,0.8,1.0,1.2],"format":".1f","labelExpr":"datum.value<0.5?'':datum.label","title":null}},
  "y":{"field":"y","type":"quantitative","scale":{"domain":[0.4,31.4],"nice":false,"zero":false},"axis":{"orient":"right","values":[5,10,15,20,25,30],"labels":false,"title":null}}},
  "layer":[
  {"data":{"name":"pts"},"transform":[{"filter":"datum.cap==10"}],"mark":{"type":"circle","size":16,"color":"#bebebe","opacity":1}},
  {"data":{"name":"pts"},"transform":[{"filter":"datum.cap==10&&datum.mort==30"}],"mark":{"type":"point","shape":"circle","filled":false,"size":130,"color":"black","strokeWidth":1.4,"opacity":1}}]},
 {"data":{"name":"paneltext"},"transform":[{"filter":"datum.cap==10&&datum.mort==30"}],"mark":{"type":"text","align":"left","baseline":"alphabetic","font":"Liberation Sans","fontSize":26,"color":"black"},"encoding":{"x":{"datum":0.8405,"type":"quantitative","axis":{"orient":"top","values":[0.4,0.6,0.8,1.0,1.2],"format":".1f","labelExpr":"datum.value<0.5?'':datum.label","title":null}},"y":{"datum":26.23,"type":"quantitative","axis":{"orient":"right","values":[5,10,15,20,25,30],"labels":false,"title":null}},"text":{"field":"capText","type":"nominal"}}},
 {"data":{"name":"paneltext"},"transform":[{"filter":"datum.cap==10&&datum.mort==30"}],"mark":{"type":"text","align":"left","baseline":"alphabetic","font":"Liberation Sans","fontSize":26,"color":"black"},"encoding":{"x":{"datum":0.8405,"type":"quantitative","axis":{"orient":"top","values":[0.4,0.6,0.8,1.0,1.2],"format":".1f","labelExpr":"datum.value<0.5?'':datum.label","title":null}},"y":{"datum":21.41,"type":"quantitative","axis":{"orient":"right","values":[5,10,15,20,25,30],"labels":false,"title":null}},"text":{"field":"mortText","type":"nominal"}}}
]},
{"width":253,"height":254,"layer":[
 {"encoding":{"x":{"field":"x","type":"quantitative","scale":{"domain":[0.4,1.298],"nice":false,"zero":false},"axis":null},
  "y":{"field":"y","type":"quantitative","scale":{"domain":[0.4,31.4],"nice":false,"zero":false},"axis":{"orient":"left","values":[5,10,15,20,25,30],"labels":false,"title":"Mean Number of Pairs","titleX":-86,"titleY":112,"titleAngle":270,"titleFontSize":31,"titleFontWeight":"normal","titleBaseline":"middle","titleAlign":"center"}}},
  "layer":[
  {"data":{"name":"pts"},"transform":[{"filter":"datum.cap==15"}],"mark":{"type":"circle","size":16,"color":"#bebebe","opacity":1}},
  {"data":{"name":"pts"},"transform":[{"filter":"datum.cap==15&&datum.mort==5"}],"mark":{"type":"point","shape":"circle","filled":false,"size":130,"color":"black","strokeWidth":1.4,"opacity":1}}]},
 {"data":{"name":"paneltext"},"transform":[{"filter":"datum.cap==15&&datum.mort==5"}],"mark":{"type":"text","align":"left","baseline":"alphabetic","font":"Liberation Sans","fontSize":26,"color":"black"},"encoding":{"x":{"datum":0.8405,"type":"quantitative","axis":null},"y":{"datum":26.23,"type":"quantitative","axis":{"orient":"left","values":[5,10,15,20,25,30],"labels":false,"title":"Mean Number of Pairs","titleX":-86,"titleY":112,"titleAngle":270,"titleFontSize":31,"titleFontWeight":"normal","titleBaseline":"middle","titleAlign":"center"}},"text":{"field":"capText","type":"nominal"}}},
 {"data":{"name":"paneltext"},"transform":[{"filter":"datum.cap==15&&datum.mort==5"}],"mark":{"type":"text","align":"left","baseline":"alphabetic","font":"Liberation Sans","fontSize":26,"color":"black"},"encoding":{"x":{"datum":0.8405,"type":"quantitative","axis":null},"y":{"datum":21.41,"type":"quantitative","axis":{"orient":"left","values":[5,10,15,20,25,30],"labels":false,"title":"Mean Number of Pairs","titleX":-86,"titleY":112,"titleAngle":270,"titleFontSize":31,"titleFontWeight":"normal","titleBaseline":"middle","titleAlign":"center"}},"text":{"field":"mortText","type":"nominal"}}}
]},
{"width":253,"height":254,"layer":[
 {"encoding":{"x":{"field":"x","type":"quantitative","scale":{"domain":[0.4,1.298],"nice":false,"zero":false},"axis":null},
  "y":{"field":"y","type":"quantitative","scale":{"domain":[0.4,31.4],"nice":false,"zero":false},"axis":null}},
  "layer":[
  {"data":{"name":"pts"},"transform":[{"filter":"datum.cap==15"}],"mark":{"type":"circle","size":16,"color":"#bebebe","opacity":1}},
  {"data":{"name":"pts"},"transform":[{"filter":"datum.cap==15&&datum.mort==10"}],"mark":{"type":"point","shape":"circle","filled":false,"size":130,"color":"black","strokeWidth":1.4,"opacity":1}}]},
 {"data":{"name":"paneltext"},"transform":[{"filter":"datum.cap==15&&datum.mort==10"}],"mark":{"type":"text","align":"left","baseline":"alphabetic","font":"Liberation Sans","fontSize":26,"color":"black"},"encoding":{"x":{"datum":0.8405,"type":"quantitative","axis":null},"y":{"datum":26.23,"type":"quantitative","axis":null},"text":{"field":"capText","type":"nominal"}}},
 {"data":{"name":"paneltext"},"transform":[{"filter":"datum.cap==15&&datum.mort==10"}],"mark":{"type":"text","align":"left","baseline":"alphabetic","font":"Liberation Sans","fontSize":26,"color":"black"},"encoding":{"x":{"datum":0.8405,"type":"quantitative","axis":null},"y":{"datum":21.41,"type":"quantitative","axis":null},"text":{"field":"mortText","type":"nominal"}}}
]},
{"width":253,"height":254,"layer":[
 {"encoding":{"x":{"field":"x","type":"quantitative","scale":{"domain":[0.4,1.298],"nice":false,"zero":false},"axis":null},
  "y":{"field":"y","type":"quantitative","scale":{"domain":[0.4,31.4],"nice":false,"zero":false},"axis":null}},
  "layer":[
  {"data":{"name":"pts"},"transform":[{"filter":"datum.cap==15"}],"mark":{"type":"circle","size":16,"color":"#bebebe","opacity":1}},
  {"data":{"name":"pts"},"transform":[{"filter":"datum.cap==15&&datum.mort==15"}],"mark":{"type":"point","shape":"circle","filled":false,"size":130,"color":"black","strokeWidth":1.4,"opacity":1}}]},
 {"data":{"name":"paneltext"},"transform":[{"filter":"datum.cap==15&&datum.mort==15"}],"mark":{"type":"text","align":"left","baseline":"alphabetic","font":"Liberation Sans","fontSize":26,"color":"black"},"encoding":{"x":{"datum":0.8405,"type":"quantitative","axis":null},"y":{"datum":26.23,"type":"quantitative","axis":null},"text":{"field":"capText","type":"nominal"}}},
 {"data":{"name":"paneltext"},"transform":[{"filter":"datum.cap==15&&datum.mort==15"}],"mark":{"type":"text","align":"left","baseline":"alphabetic","font":"Liberation Sans","fontSize":26,"color":"black"},"encoding":{"x":{"datum":0.8405,"type":"quantitative","axis":null},"y":{"datum":21.41,"type":"quantitative","axis":null},"text":{"field":"mortText","type":"nominal"}}}
]},
{"width":253,"height":254,"layer":[
 {"encoding":{"x":{"field":"x","type":"quantitative","scale":{"domain":[0.4,1.298],"nice":false,"zero":false},"axis":null},
  "y":{"field":"y","type":"quantitative","scale":{"domain":[0.4,31.4],"nice":false,"zero":false},"axis":null}},
  "layer":[
  {"data":{"name":"pts"},"transform":[{"filter":"datum.cap==15"}],"mark":{"type":"circle","size":16,"color":"#bebebe","opacity":1}},
  {"data":{"name":"pts"},"transform":[{"filter":"datum.cap==15&&datum.mort==20"}],"mark":{"type":"point","shape":"circle","filled":false,"size":130,"color":"black","strokeWidth":1.4,"opacity":1}}]},
 {"data":{"name":"paneltext"},"transform":[{"filter":"datum.cap==15&&datum.mort==20"}],"mark":{"type":"text","align":"left","baseline":"alphabetic","font":"Liberation Sans","fontSize":26,"color":"black"},"encoding":{"x":{"datum":0.8405,"type":"quantitative","axis":null},"y":{"datum":26.23,"type":"quantitative","axis":null},"text":{"field":"capText","type":"nominal"}}},
 {"data":{"name":"paneltext"},"transform":[{"filter":"datum.cap==15&&datum.mort==20"}],"mark":{"type":"text","align":"left","baseline":"alphabetic","font":"Liberation Sans","fontSize":26,"color":"black"},"encoding":{"x":{"datum":0.8405,"type":"quantitative","axis":null},"y":{"datum":21.41,"type":"quantitative","axis":null},"text":{"field":"mortText","type":"nominal"}}}
]},
{"width":253,"height":254,"layer":[
 {"encoding":{"x":{"field":"x","type":"quantitative","scale":{"domain":[0.4,1.298],"nice":false,"zero":false},"axis":null},
  "y":{"field":"y","type":"quantitative","scale":{"domain":[0.4,31.4],"nice":false,"zero":false},"axis":null}},
  "layer":[
  {"data":{"name":"pts"},"transform":[{"filter":"datum.cap==15"}],"mark":{"type":"circle","size":16,"color":"#bebebe","opacity":1}},
  {"data":{"name":"pts"},"transform":[{"filter":"datum.cap==15&&datum.mort==25"}],"mark":{"type":"point","shape":"circle","filled":false,"size":130,"color":"black","strokeWidth":1.4,"opacity":1}}]},
 {"data":{"name":"paneltext"},"transform":[{"filter":"datum.cap==15&&datum.mort==25"}],"mark":{"type":"text","align":"left","baseline":"alphabetic","font":"Liberation Sans","fontSize":26,"color":"black"},"encoding":{"x":{"datum":0.8405,"type":"quantitative","axis":null},"y":{"datum":26.23,"type":"quantitative","axis":null},"text":{"field":"capText","type":"nominal"}}},
 {"data":{"name":"paneltext"},"transform":[{"filter":"datum.cap==15&&datum.mort==25"}],"mark":{"type":"text","align":"left","baseline":"alphabetic","font":"Liberation Sans","fontSize":26,"color":"black"},"encoding":{"x":{"datum":0.8405,"type":"quantitative","axis":null},"y":{"datum":21.41,"type":"quantitative","axis":null},"text":{"field":"mortText","type":"nominal"}}}
]},
{"width":253,"height":254,"layer":[
 {"encoding":{"x":{"field":"x","type":"quantitative","scale":{"domain":[0.4,1.298],"nice":false,"zero":false},"axis":null},
  "y":{"field":"y","type":"quantitative","scale":{"domain":[0.4,31.4],"nice":false,"zero":false},"axis":{"orient":"right","values":[5,10,15,20,25,30],"labelExpr":"datum.value>27?'':datum.label","title":null}}},
  "layer":[
  {"data":{"name":"pts"},"transform":[{"filter":"datum.cap==15"}],"mark":{"type":"circle","size":16,"color":"#bebebe","opacity":1}},
  {"data":{"name":"pts"},"transform":[{"filter":"datum.cap==15&&datum.mort==30"}],"mark":{"type":"point","shape":"circle","filled":false,"size":130,"color":"black","strokeWidth":1.4,"opacity":1}}]},
 {"data":{"name":"paneltext"},"transform":[{"filter":"datum.cap==15&&datum.mort==30"}],"mark":{"type":"text","align":"left","baseline":"alphabetic","font":"Liberation Sans","fontSize":26,"color":"black"},"encoding":{"x":{"datum":0.8405,"type":"quantitative","axis":null},"y":{"datum":26.23,"type":"quantitative","axis":{"orient":"right","values":[5,10,15,20,25,30],"labelExpr":"datum.value>27?'':datum.label","title":null}},"text":{"field":"capText","type":"nominal"}}},
 {"data":{"name":"paneltext"},"transform":[{"filter":"datum.cap==15&&datum.mort==30"}],"mark":{"type":"text","align":"left","baseline":"alphabetic","font":"Liberation Sans","fontSize":26,"color":"black"},"encoding":{"x":{"datum":0.8405,"type":"quantitative","axis":null},"y":{"datum":21.41,"type":"quantitative","axis":{"orient":"right","values":[5,10,15,20,25,30],"labelExpr":"datum.value>27?'':datum.label","title":null}},"text":{"field":"mortText","type":"nominal"}}}
]},
{"width":253,"height":254,"layer":[
 {"encoding":{"x":{"field":"x","type":"quantitative","scale":{"domain":[0.4,1.298],"nice":false,"zero":false},"axis":{"orient":"bottom","values":[0.4,0.6,0.8,1.0,1.2],"format":".1f","labelExpr":"datum.value<0.5?'':datum.label","title":null}},
  "y":{"field":"y","type":"quantitative","scale":{"domain":[0.4,31.4],"nice":false,"zero":false},"axis":{"orient":"left","values":[5,10,15,20,25,30],"labelExpr":"datum.value>27?'':datum.label","title":"107","titleX":-156,"titleY":-28,"titleAngle":270,"titleFont":"Liberation Serif","titleFontSize":20,"titleFontWeight":"normal","titleBaseline":"middle","titleAlign":"center"}}},
  "layer":[
  {"data":{"name":"pts"},"transform":[{"filter":"datum.cap==20"}],"mark":{"type":"circle","size":16,"color":"#bebebe","opacity":1}},
  {"data":{"name":"pts"},"transform":[{"filter":"datum.cap==20&&datum.mort==5"}],"mark":{"type":"point","shape":"circle","filled":false,"size":130,"color":"black","strokeWidth":1.4,"opacity":1}}]},
 {"data":{"name":"paneltext"},"transform":[{"filter":"datum.cap==20&&datum.mort==5"}],"mark":{"type":"text","align":"left","baseline":"alphabetic","font":"Liberation Sans","fontSize":26,"color":"black"},"encoding":{"x":{"datum":0.8405,"type":"quantitative","axis":{"orient":"bottom","values":[0.4,0.6,0.8,1.0,1.2],"format":".1f","labelExpr":"datum.value<0.5?'':datum.label","title":null}},"y":{"datum":26.23,"type":"quantitative","axis":{"orient":"left","values":[5,10,15,20,25,30],"labelExpr":"datum.value>27?'':datum.label","title":"107","titleX":-156,"titleY":-28,"titleAngle":270,"titleFont":"Liberation Serif","titleFontSize":20,"titleFontWeight":"normal","titleBaseline":"middle","titleAlign":"center"}},"text":{"field":"capText","type":"nominal"}}},
 {"data":{"name":"paneltext"},"transform":[{"filter":"datum.cap==20&&datum.mort==5"}],"mark":{"type":"text","align":"left","baseline":"alphabetic","font":"Liberation Sans","fontSize":26,"color":"black"},"encoding":{"x":{"datum":0.8405,"type":"quantitative","axis":{"orient":"bottom","values":[0.4,0.6,0.8,1.0,1.2],"format":".1f","labelExpr":"datum.value<0.5?'':datum.label","title":null}},"y":{"datum":21.41,"type":"quantitative","axis":{"orient":"left","values":[5,10,15,20,25,30],"labelExpr":"datum.value>27?'':datum.label","title":"107","titleX":-156,"titleY":-28,"titleAngle":270,"titleFont":"Liberation Serif","titleFontSize":20,"titleFontWeight":"normal","titleBaseline":"middle","titleAlign":"center"}},"text":{"field":"mortText","type":"nominal"}}}
]},
{"width":253,"height":254,"layer":[
 {"encoding":{"x":{"field":"x","type":"quantitative","scale":{"domain":[0.4,1.298],"nice":false,"zero":false},"axis":{"orient":"bottom","values":[0.4,0.6,0.8,1.0,1.2],"labels":false,"title":null}},
  "y":{"field":"y","type":"quantitative","scale":{"domain":[0.4,31.4],"nice":false,"zero":false},"axis":null}},
  "layer":[
  {"data":{"name":"pts"},"transform":[{"filter":"datum.cap==20"}],"mark":{"type":"circle","size":16,"color":"#bebebe","opacity":1}},
  {"data":{"name":"pts"},"transform":[{"filter":"datum.cap==20&&datum.mort==10"}],"mark":{"type":"point","shape":"circle","filled":false,"size":130,"color":"black","strokeWidth":1.4,"opacity":1}}]},
 {"data":{"name":"paneltext"},"transform":[{"filter":"datum.cap==20&&datum.mort==10"}],"mark":{"type":"text","align":"left","baseline":"alphabetic","font":"Liberation Sans","fontSize":26,"color":"black"},"encoding":{"x":{"datum":0.8405,"type":"quantitative","axis":{"orient":"bottom","values":[0.4,0.6,0.8,1.0,1.2],"labels":false,"title":null}},"y":{"datum":26.23,"type":"quantitative","axis":null},"text":{"field":"capText","type":"nominal"}}},
 {"data":{"name":"paneltext"},"transform":[{"filter":"datum.cap==20&&datum.mort==10"}],"mark":{"type":"text","align":"left","baseline":"alphabetic","font":"Liberation Sans","fontSize":26,"color":"black"},"encoding":{"x":{"datum":0.8405,"type":"quantitative","axis":{"orient":"bottom","values":[0.4,0.6,0.8,1.0,1.2],"labels":false,"title":null}},"y":{"datum":21.41,"type":"quantitative","axis":null},"text":{"field":"mortText","type":"nominal"}}}
]},
{"width":253,"height":254,"layer":[
 {"encoding":{"x":{"field":"x","type":"quantitative","scale":{"domain":[0.4,1.298],"nice":false,"zero":false},"axis":{"orient":"bottom","values":[0.4,0.6,0.8,1.0,1.2],"format":".1f","labelExpr":"datum.value<0.5?'':datum.label","title":"Mean Fecundity","titleX":254.6,"titleY":81,"titleFontSize":28,"titleFontWeight":"normal","titleBaseline":"middle","titleAlign":"center","titleAngle":0}},
  "y":{"field":"y","type":"quantitative","scale":{"domain":[0.4,31.4],"nice":false,"zero":false},"axis":null}},
  "layer":[
  {"data":{"name":"pts"},"transform":[{"filter":"datum.cap==20"}],"mark":{"type":"circle","size":16,"color":"#bebebe","opacity":1}},
  {"data":{"name":"pts"},"transform":[{"filter":"datum.cap==20&&datum.mort==15"}],"mark":{"type":"point","shape":"circle","filled":false,"size":130,"color":"black","strokeWidth":1.4,"opacity":1}}]},
 {"data":{"name":"paneltext"},"transform":[{"filter":"datum.cap==20&&datum.mort==15"}],"mark":{"type":"text","align":"left","baseline":"alphabetic","font":"Liberation Sans","fontSize":26,"color":"black"},"encoding":{"x":{"datum":0.8405,"type":"quantitative","axis":{"orient":"bottom","values":[0.4,0.6,0.8,1.0,1.2],"format":".1f","labelExpr":"datum.value<0.5?'':datum.label","title":"Mean Fecundity","titleX":254.6,"titleY":81,"titleFontSize":28,"titleFontWeight":"normal","titleBaseline":"middle","titleAlign":"center","titleAngle":0}},"y":{"datum":26.23,"type":"quantitative","axis":null},"text":{"field":"capText","type":"nominal"}}},
 {"data":{"name":"paneltext"},"transform":[{"filter":"datum.cap==20&&datum.mort==15"}],"mark":{"type":"text","align":"left","baseline":"alphabetic","font":"Liberation Sans","fontSize":26,"color":"black"},"encoding":{"x":{"datum":0.8405,"type":"quantitative","axis":{"orient":"bottom","values":[0.4,0.6,0.8,1.0,1.2],"format":".1f","labelExpr":"datum.value<0.5?'':datum.label","title":"Mean Fecundity","titleX":254.6,"titleY":81,"titleFontSize":28,"titleFontWeight":"normal","titleBaseline":"middle","titleAlign":"center","titleAngle":0}},"y":{"datum":21.41,"type":"quantitative","axis":null},"text":{"field":"mortText","type":"nominal"}}}
]},
{"width":253,"height":254,"layer":[
 {"encoding":{"x":{"field":"x","type":"quantitative","scale":{"domain":[0.4,1.298],"nice":false,"zero":false},"axis":{"orient":"bottom","values":[0.4,0.6,0.8,1.0,1.2],"labels":false,"title":null}},
  "y":{"field":"y","type":"quantitative","scale":{"domain":[0.4,31.4],"nice":false,"zero":false},"axis":null}},
  "layer":[
  {"data":{"name":"pts"},"transform":[{"filter":"datum.cap==20"}],"mark":{"type":"circle","size":16,"color":"#bebebe","opacity":1}},
  {"data":{"name":"pts"},"transform":[{"filter":"datum.cap==20&&datum.mort==20"}],"mark":{"type":"point","shape":"circle","filled":false,"size":130,"color":"black","strokeWidth":1.4,"opacity":1}}]},
 {"data":{"name":"paneltext"},"transform":[{"filter":"datum.cap==20&&datum.mort==20"}],"mark":{"type":"text","align":"left","baseline":"alphabetic","font":"Liberation Sans","fontSize":26,"color":"black"},"encoding":{"x":{"datum":0.8405,"type":"quantitative","axis":{"orient":"bottom","values":[0.4,0.6,0.8,1.0,1.2],"labels":false,"title":null}},"y":{"datum":26.23,"type":"quantitative","axis":null},"text":{"field":"capText","type":"nominal"}}},
 {"data":{"name":"paneltext"},"transform":[{"filter":"datum.cap==20&&datum.mort==20"}],"mark":{"type":"text","align":"left","baseline":"alphabetic","font":"Liberation Sans","fontSize":26,"color":"black"},"encoding":{"x":{"datum":0.8405,"type":"quantitative","axis":{"orient":"bottom","values":[0.4,0.6,0.8,1.0,1.2],"labels":false,"title":null}},"y":{"datum":21.41,"type":"quantitative","axis":null},"text":{"field":"mortText","type":"nominal"}}}
]},
{"width":253,"height":254,"layer":[
 {"encoding":{"x":{"field":"x","type":"quantitative","scale":{"domain":[0.4,1.298],"nice":false,"zero":false},"axis":{"orient":"bottom","values":[0.4,0.6,0.8,1.0,1.2],"format":".1f","labelExpr":"datum.value<0.5?'':datum.label","title":null}},
  "y":{"field":"y","type":"quantitative","scale":{"domain":[0.4,31.4],"nice":false,"zero":false},"axis":null}},
  "layer":[
  {"data":{"name":"pts"},"transform":[{"filter":"datum.cap==20"}],"mark":{"type":"circle","size":16,"color":"#bebebe","opacity":1}},
  {"data":{"name":"pts"},"transform":[{"filter":"datum.cap==20&&datum.mort==25"}],"mark":{"type":"point","shape":"circle","filled":false,"size":130,"color":"black","strokeWidth":1.4,"opacity":1}}]},
 {"data":{"name":"paneltext"},"transform":[{"filter":"datum.cap==20&&datum.mort==25"}],"mark":{"type":"text","align":"left","baseline":"alphabetic","font":"Liberation Sans","fontSize":26,"color":"black"},"encoding":{"x":{"datum":0.8405,"type":"quantitative","axis":{"orient":"bottom","values":[0.4,0.6,0.8,1.0,1.2],"format":".1f","labelExpr":"datum.value<0.5?'':datum.label","title":null}},"y":{"datum":26.23,"type":"quantitative","axis":null},"text":{"field":"capText","type":"nominal"}}},
 {"data":{"name":"paneltext"},"transform":[{"filter":"datum.cap==20&&datum.mort==25"}],"mark":{"type":"text","align":"left","baseline":"alphabetic","font":"Liberation Sans","fontSize":26,"color":"black"},"encoding":{"x":{"datum":0.8405,"type":"quantitative","axis":{"orient":"bottom","values":[0.4,0.6,0.8,1.0,1.2],"format":".1f","labelExpr":"datum.value<0.5?'':datum.label","title":null}},"y":{"datum":21.41,"type":"quantitative","axis":null},"text":{"field":"mortText","type":"nominal"}}}
]},
{"width":253,"height":254,"layer":[
 {"encoding":{"x":{"field":"x","type":"quantitative","scale":{"domain":[0.4,1.298],"nice":false,"zero":false},"axis":{"orient":"bottom","values":[0.4,0.6,0.8,1.0,1.2],"labels":false,"title":null}},
  "y":{"field":"y","type":"quantitative","scale":{"domain":[0.4,31.4],"nice":false,"zero":false},"axis":{"orient":"right","values":[5,10,15,20,25,30],"labels":false,"title":null}}},
  "layer":[
  {"data":{"name":"pts"},"transform":[{"filter":"datum.cap==20"}],"mark":{"type":"circle","size":16,"color":"#bebebe","opacity":1}},
  {"data":{"name":"pts"},"transform":[{"filter":"datum.cap==20&&datum.mort==30"}],"mark":{"type":"point","shape":"circle","filled":false,"size":130,"color":"black","strokeWidth":1.4,"opacity":1}}]},
 {"data":{"name":"paneltext"},"transform":[{"filter":"datum.cap==20&&datum.mort==30"}],"mark":{"type":"text","align":"left","baseline":"alphabetic","font":"Liberation Sans","fontSize":26,"color":"black"},"encoding":{"x":{"datum":0.8405,"type":"quantitative","axis":{"orient":"bottom","values":[0.4,0.6,0.8,1.0,1.2],"labels":false,"title":null}},"y":{"datum":26.23,"type":"quantitative","axis":{"orient":"right","values":[5,10,15,20,25,30],"labels":false,"title":null}},"text":{"field":"capText","type":"nominal"}}},
 {"data":{"name":"paneltext"},"transform":[{"filter":"datum.cap==20&&datum.mort==30"}],"mark":{"type":"text","align":"left","baseline":"alphabetic","font":"Liberation Sans","fontSize":26,"color":"black"},"encoding":{"x":{"datum":0.8405,"type":"quantitative","axis":{"orient":"bottom","values":[0.4,0.6,0.8,1.0,1.2],"labels":false,"title":null}},"y":{"datum":21.41,"type":"quantitative","axis":{"orient":"right","values":[5,10,15,20,25,30],"labels":false,"title":null}},"text":{"field":"mortText","type":"nominal"}}}
]}
],
"config":{
 "view":{"stroke":"black","strokeWidth":1},
 "axis":{"domain":false,"grid":false,"ticks":true,"tickSize":13,"tickColor":"black","tickWidth":1,"labelFont":"Liberation Sans","labelFontSize":22,"labelColor":"black","labelPadding":8,"labelFlush":false,"labelOverlap":false,"titleFont":"Liberation Sans","titleColor":"black","titlePadding":0},
 "axisY":{"labelPadding":13},
 "axisBottom":{"labelPadding":10.5}
}
}
